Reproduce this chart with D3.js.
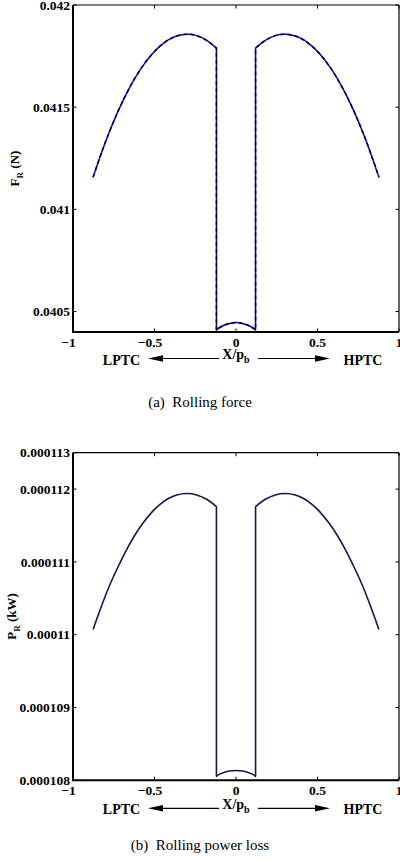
<!DOCTYPE html>
<html>
<head>
<meta charset="utf-8">
<script src="https://cdn.jsdelivr.net/npm/d3@7"></script>
<style>
  html, body { margin: 0; padding: 0; background: #fff; }
  svg { display: block; }
</style>
</head>
<body>
<svg id="fig" width="400" height="861"></svg>
<script>
// ---- data ----
const xTicks = [-1, -0.5, 0, 0.5, 1];
const xTickLabels = ["\u22121", "\u22120.5", "0", "0.5", "1"];

const forceTicks = [0.0405, 0.041, 0.0415, 0.042];
const forceTickLabels = ["0.0405", "0.041", "0.0415", "0.042"];
const powerTicks = [0.000108, 0.000109, 0.00011, 0.000111, 0.000112, 0.0001125];
const powerTickLabels = ["0.000108", "0.000109", "0.00011", "0.000111", "0.000112", "0.000113"];

// ball position X/p_b along the race: low-pressure side, contact gap, high-pressure side
const positionLeft  = [-0.877, -0.824, -0.773, -0.722, -0.671, -0.620, -0.568, -0.517, -0.466, -0.415, -0.364, -0.302, -0.241, -0.180, -0.12];
const positionGap   = [-0.12, -0.10, -0.07, -0.04, 0, 0.04, 0.07, 0.10, 0.12];
const positionRight = [0.12, 0.180, 0.241, 0.302, 0.364, 0.415, 0.466, 0.517, 0.568, 0.620, 0.671, 0.722, 0.773, 0.824, 0.877];

// rolling force F_R (N)
const forceLeft  = [0.041157, 0.041280, 0.041387, 0.041483, 0.041568, 0.041642, 0.041706, 0.041758, 0.041799, 0.041829, 0.041848, 0.041857, 0.041850, 0.041827, 0.041789];
const forceGap   = [0.040410, 0.040422, 0.040434, 0.040442, 0.040446, 0.040442, 0.040434, 0.040422, 0.040410];
const forceRight = [0.041789, 0.041827, 0.041850, 0.041857, 0.041848, 0.041829, 0.041799, 0.041758, 0.041706, 0.041642, 0.041568, 0.041483, 0.041387, 0.041280, 0.041157];

// rolling power loss P_R (kW)
const powerLeft  = [0.00011007, 0.00011040, 0.00011069, 0.00011094, 0.00011117, 0.00011137, 0.00011154, 0.00011168, 0.00011179, 0.00011187, 0.00011192, 0.00011194, 0.00011192, 0.00011186, 0.00011176];
const powerGap   = [0.000108055, 0.000108085, 0.000108112, 0.000108128, 0.000108135, 0.000108128, 0.000108112, 0.000108085, 0.000108055];
const powerRight = [0.00011176, 0.00011186, 0.00011192, 0.00011194, 0.00011192, 0.00011187, 0.00011179, 0.00011168, 0.00011154, 0.00011137, 0.00011117, 0.00011094, 0.00011069, 0.00011040, 0.00011007];

// ---- drawing ----
const SERIF = "'Liberation Serif', Tinos, 'Times New Roman', Times, 'DejaVu Serif', serif";
const svg = d3.select("#fig");
svg.append("rect").attr("width", 400).attr("height", 861).attr("fill", "#fff");

const plotLeft = 73, plotRight = 399;
const tickFont = "13.5px";

function zip(xs, ys) { return xs.map((x, i) => [x, ys[i]]); }

function label(g) {
  return g.append("text").attr("font-family", SERIF).style("font-family", SERIF);
}

function drawPanel(cfg) {
  const g = svg.append("g");
  const x = d3.scaleLinear().domain([-1, 1]).range([plotLeft, plotRight]);
  const y = d3.scaleLinear().domain(cfg.yDomain).range([cfg.bottom, cfg.top]);

  // data path: left branch, drop into contact gap, gap arc, rise, right branch
  const line = d3.line().x(d => x(d[0])).y(d => y(d[1])).curve(d3.curveNatural);
  const parts = [zip(positionLeft, cfg.left), zip(positionGap, cfg.gap), zip(positionRight, cfg.right)];
  const dStr = parts.map((p, i) => {
    const s = line(p);
    return i === 0 ? s : "L" + s.slice(1);
  }).join("");

  cfg.strokes.forEach(st => {
    g.append("path")
      .attr("d", dStr)
      .attr("fill", "none")
      .attr("stroke", st.color)
      .attr("stroke-width", st.width)
      .attr("stroke-dasharray", st.dash || null)
      .attr("stroke-linejoin", "round");
  });

  // frame
  g.append("line").attr("x1", plotLeft).attr("x2", plotRight).attr("y1", cfg.top).attr("y2", cfg.top)
    .attr("stroke", "#000").attr("stroke-width", 1.2);
  g.append("line").attr("x1", plotRight).attr("x2", plotRight).attr("y1", cfg.top).attr("y2", cfg.bottom)
    .attr("stroke", "#000").attr("stroke-width", 1.2);
  g.append("line").attr("x1", plotLeft - 1).attr("x2", plotRight).attr("y1", cfg.bottom).attr("y2", cfg.bottom)
    .attr("stroke", "#000").attr("stroke-width", 2);
  g.append("line").attr("x1", plotLeft).attr("x2", plotLeft).attr("y1", cfg.top).attr("y2", cfg.bottom)
    .attr("stroke", "#000").attr("stroke-width", 2);

  // inward ticks on all four sides
  const tl = 3.5;
  xTicks.forEach(v => {
    g.append("line").attr("x1", x(v)).attr("x2", x(v)).attr("y1", cfg.bottom).attr("y2", cfg.bottom - tl)
      .attr("stroke", "#000").attr("stroke-width", 1);
    g.append("line").attr("x1", x(v)).attr("x2", x(v)).attr("y1", cfg.top).attr("y2", cfg.top + tl)
      .attr("stroke", "#000").attr("stroke-width", 1);
  });
  cfg.yTicks.forEach(v => {
    g.append("line").attr("x1", plotLeft).attr("x2", plotLeft + tl).attr("y1", y(v)).attr("y2", y(v))
      .attr("stroke", "#000").attr("stroke-width", 1);
    g.append("line").attr("x1", plotRight).attr("x2", plotRight - tl).attr("y1", y(v)).attr("y2", y(v))
      .attr("stroke", "#000").attr("stroke-width", 1);
  });

  // tick labels
  xTicks.forEach((v, i) => {
    label(g)
      .attr("x", x(v) + (v < 0 ? -4.5 : 0))
      .attr("y", cfg.bottom + 14.5)
      .attr("text-anchor", "middle")
      .attr("font-size", tickFont).attr("font-weight", "bold")
      .text(xTickLabels[i]);
  });
  cfg.yTicks.forEach((v, i) => {
    label(g)
      .attr("x", plotLeft - 3)
      .attr("y", y(v))
      .attr("dy", "0.35em")
      .attr("text-anchor", "end")
      .attr("font-size", tickFont).attr("font-weight", "bold")
      .text(cfg.yTickLabels[i]);
  });

  // y-axis title
  const cy = (cfg.top + cfg.bottom) / 2;
  const yt = label(g)
    .attr("transform", `translate(${cfg.yLabelX},${cy}) rotate(-90)`)
    .attr("text-anchor", "middle")
    .attr("font-size", "13px").attr("font-weight", "bold");
  yt.append("tspan").text(cfg.yLabel[0]);
  yt.append("tspan").attr("font-size", "9px").attr("dy", 4).text(cfg.yLabel[1]);
  yt.append("tspan").attr("dy", -4).text("\u00a0" + cfg.yLabel[2]);

  // x-axis title with direction arrows
  const ay = cfg.bottom + cfg.arrowOffset;
  const xt = label(g)
    .attr("x", 236).attr("y", ay + 0.5)
    .attr("text-anchor", "middle")
    .attr("font-size", "14px").attr("font-weight", "bold");
  xt.append("tspan").text("X/p");
  xt.append("tspan").attr("font-size", "10px").attr("dy", 4).text("b");

  label(g).attr("x", 121.5).attr("y", ay + 6).attr("text-anchor", "middle")
    .attr("font-size", "14px").attr("font-weight", "bold").text("LPTC");
  label(g).attr("x", 363).attr("y", ay + 6).attr("text-anchor", "middle")
    .attr("font-size", "14px").attr("font-weight", "bold").text("HPTC");

  // left arrow
  g.append("line").attr("x1", 219).attr("x2", 160).attr("y1", ay).attr("y2", ay)
    .attr("stroke", "#000").attr("stroke-width", 1.2);
  g.append("path").attr("d", `M148,${ay} L163,${ay - 3.2} L163,${ay + 3.2} Z`).attr("fill", "#000");
  // right arrow
  g.append("line").attr("x1", 258).attr("x2", 318).attr("y1", ay).attr("y2", ay)
    .attr("stroke", "#000").attr("stroke-width", 1.2);
  g.append("path").attr("d", `M330,${ay} L315,${ay - 3.2} L315,${ay + 3.2} Z`).attr("fill", "#000");

  // caption
  label(g)
    .attr("x", 200).attr("y", cfg.captionY)
    .attr("text-anchor", "middle")
    .attr("font-size", "15px")
    .attr("xml:space", "preserve")
    .style("white-space", "pre")
    .text(cfg.caption);
}

drawPanel({
  top: 5, bottom: 332,
  yDomain: [0.0404, 0.042],
  yTicks: forceTicks, yTickLabels: forceTickLabels,
  left: forceLeft, gap: forceGap, right: forceRight,
  strokes: [
    { color: "#0000ff", width: 1.5 },
    { color: "#000000", width: 1.5, dash: "4,3" }
  ],
  yLabel: ["F", "R", "(N)"], yLabelX: 19,
  arrowOffset: 26.5,
  caption: "(a)  Rolling force", captionY: 407
});

drawPanel({
  top: 452.7, bottom: 780.3,
  yDomain: [0.000108, 0.0001125],
  yTicks: powerTicks, yTickLabels: powerTickLabels,
  left: powerLeft, gap: powerGap, right: powerRight,
  strokes: [
    { color: "#16164f", width: 1.6 }
  ],
  yLabel: ["P", "R", "(kW)"], yLabelX: 15.5,
  arrowOffset: 28,
  caption: "(b)  Rolling power loss", captionY: 850
});
</script>
</body>
</html>
